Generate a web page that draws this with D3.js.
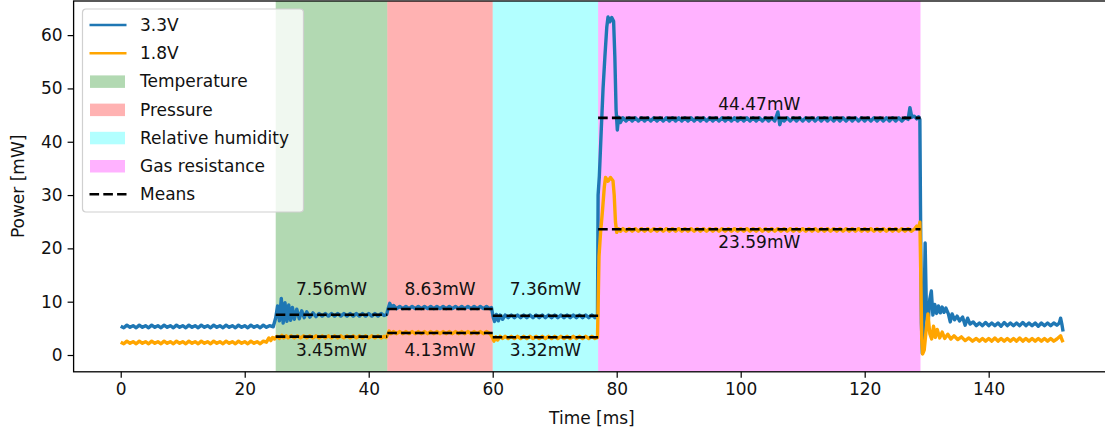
<!DOCTYPE html>
<html>
<head>
    <meta charset="utf-8">
    <title>Power</title>
    <script src="https://d3js.org/d3.v7.min.js"></script>
    <style>
        body { margin: 0; background: #fff; }
        svg { font-family: "DejaVu Sans", sans-serif; }
    </style>
</head>
<body>
<svg id="chart"></svg>
<script>
// measured phases [start, end] in ms
var phaseNames = ["Temperature", "Pressure", "Relative humidity", "Gas resistance"];
var phaseStart = [25, 43, 60, 77];
var phaseEnd = [43, 60, 77, 129];
var phaseColors = ["green", "red", "cyan", "magenta"];
var mean33 = [7.56, 8.63, 7.36, 44.47];
var mean18 = [3.45, 4.13, 3.32, 23.59];
var label33Y = [12.4, 12.4, 12.4, 47.1];
var label18Y = [0.9, 0.9, 0.9, 21.2];

var xTicks = [0, 20, 40, 60, 80, 100, 120, 140];
var yTicks = [0, 10, 20, 30, 40, 50, 60];

// 3.3V rail [time ms, power mW]
var power33 = [
    [0,5.4],[0.5,5.1],[1,5.6],[1.5,5.2],[2,5.5],[2.5,5.1],[3,5.6],[3.5,5.2],[4,5.5],[4.5,5.1],
    [5,5.6],[5.5,5.2],[6,5.5],[6.5,5.1],[7,5.6],[7.5,5.2],[8,5.5],[8.5,5.1],[9,5.6],[9.5,5.2],
    [10,5.5],[10.5,5.1],[11,5.6],[11.5,5.2],[12,5.5],[12.5,5.1],[13,5.6],[13.5,5.2],[14,5.5],[14.5,5.1],
    [15,5.6],[15.5,5.2],[16,5.5],[16.5,5.1],[17,5.6],[17.5,5.2],[18,5.5],[18.5,5.1],[19,5.6],[19.5,5.2],
    [20,5.5],[20.5,5.1],[21,5.6],[21.5,5.2],[22,5.5],[22.5,5.1],[23,5.6],[23.5,5.2],[24,5.5],[24.6,5.3],
    [25.0,7.0],[25.3,9.2],[25.6,6.4],[25.9,10.6],[26.2,6.0],[26.5,9.8],[26.8,6.3],[27.1,9.4],[27.4,6.5],
    [27.7,8.9],[28.0,6.7],[28.4,8.6],[28.8,6.8],[29.2,8.3],[29.6,7.0],[30.0,8.1],[30.5,7.1],[31,7.9],
    [31.5,7.2],[32,7.8],[32.5,7.3],[33,7.8],[33.5,7.3],[34,7.8],[34.5,7.3],[35,7.8],[35.5,7.3],[36,7.8],
    [36.5,7.3],[37,7.8],[37.5,7.3],[38,7.8],[38.5,7.3],[39,7.8],[39.5,7.3],[40,7.8],[40.5,7.3],[41,7.8],
    [41.5,7.3],[42,7.8],[42.5,7.4],[42.9,7.6],
    [43.1,8.6],[43.4,9.7],[43.7,8.8],[44.0,9.3],[44.5,8.7],[45,9.1],[45.5,8.7],[46,9.1],[46.5,8.7],
    [47,9.1],[47.5,8.7],[48,9.1],[48.5,8.7],[49,9.1],[49.5,8.7],[50,9.1],[50.5,8.7],[51,9.1],[51.5,8.7],
    [52,9.1],[52.5,8.7],[53,9.1],[53.5,8.7],[54,9.1],[54.5,8.7],[55,9.1],[55.5,8.7],[56,9.1],[56.5,8.7],
    [57,9.1],[57.5,8.7],[58,9.1],[58.5,8.7],[59,9.1],[59.5,8.7],[59.8,8.9],
    [60.1,7.0],[60.3,6.3],[60.6,7.6],[60.9,6.4],[61.2,7.5],[61.6,6.7],[62,7.5],[62.5,7.0],[63,7.5],
    [63.5,7.0],[64,7.5],[64.5,7.0],[65,7.5],[65.5,7.0],[66,7.5],[66.5,7.0],[67,7.5],[67.5,7.0],[68,7.5],
    [68.5,7.0],[69,7.5],[69.5,7.0],[70,7.5],[70.5,7.0],[71,7.5],[71.5,7.0],[72,7.5],[72.5,7.0],[73,7.5],
    [73.5,7.0],[74,7.5],[74.5,7.0],[75,7.5],[75.5,7.0],[76,7.5],[76.5,7.0],[76.9,7.2],
    [77.0,30.0],[77.2,33.5],[77.5,42],[77.8,50],[78.1,56],[78.4,61.5],[78.6,63.4],[78.9,62.5],[79.2,63.3],
    [79.5,62.6],[79.7,56],[79.9,46],[80.1,42.2],[80.3,44.6],[80.6,43.6],[81,44.5],[81.5,43.9],[82,44.5],
    [82.5,43.9],[83,44.5],[83.5,43.9],[84,44.5],[84.5,43.9],[85,44.5],[85.5,43.9],[86,44.5],[86.5,43.9],
    [87,44.5],[87.5,43.9],[88,44.5],[88.5,43.9],[89,44.5],[89.5,43.9],[90,44.5],[90.5,43.9],[91,44.5],
    [91.5,43.9],[92,44.5],[92.5,43.9],[93,44.5],[93.5,43.9],[94,44.5],[94.5,43.9],[95,44.5],[95.5,43.9],
    [96,44.5],[96.5,43.9],[97,44.5],[97.5,43.9],[98,44.5],[98.5,43.9],[99,44.5],[99.5,43.9],[100,44.5],
    [100.5,43.9],[101,44.5],[101.5,43.9],[102,44.5],[102.5,43.9],[103,44.5],[103.5,43.9],[104,44.5],
    [104.5,43.9],[105,44.5],[105.5,43.9],[106,45.6],[106.3,43.2],[106.6,44.3],[107,43.9],[107.5,44.5],
    [108,43.9],[108.5,44.5],[109,43.9],[109.5,44.5],[110,43.9],[110.5,44.5],[111,43.9],[111.5,44.5],
    [112,43.9],[112.5,44.5],[113,43.9],[113.5,44.5],[114,43.9],[114.5,44.5],[115,43.9],[115.5,44.5],
    [116,43.9],[116.5,44.5],[117,43.9],[117.5,44.5],[118,43.9],[118.5,44.5],[119,43.9],[119.5,44.5],
    [120,43.9],[120.5,44.5],[121,43.9],[121.5,44.5],[122,43.9],[122.5,44.5],[123,43.9],[123.5,44.5],
    [124,43.9],[124.5,44.5],[125,43.9],[125.5,44.5],[126,43.9],[126.5,44.5],[127,44.2],[127.3,46.4],
    [127.6,44.6],[128,44.8],[128.4,44.3],[128.7,44.7],[128.9,44.2],
    [129.0,28],[129.15,6],[129.3,0.3],[129.5,3],[129.75,21],[129.95,8.5],[130.2,5.5],[130.5,10.5],
    [130.75,12],[131.0,7.5],[131.3,9.5],[131.6,7.8],[131.9,9.2],[132.2,7.9],[132.5,9.0],[132.8,8.0],
    [133.1,8.8],[133.5,7.7],[133.8,6.2],[134.1,7.7],[134.5,6.6],[134.9,7.3],[135.3,6.4],[135.8,7.1],
    [136.2,5.6],[136.6,6.9],[137,5.8],[137.5,6.2],[138,5.5],[138.5,6.0],[139,5.5],[139.5,6.1],[140,5.5],
    [140.5,6.0],[141,5.5],[141.5,6.0],[142,5.4],[142.5,6.1],[143,5.5],[143.5,6.0],[144,5.5],[144.5,6.0],
    [145,5.5],[145.5,6.1],[146,5.5],[146.5,6.0],[147,5.5],[147.5,6.0],[148,5.4],[148.5,6.0],[149,5.5],
    [149.5,6.0],[150,5.5],[150.5,6.0],[151,5.6],[151.4,6.0],[151.6,6.9],[151.8,5.8],[152,4.4]
];

// 1.8V rail [time ms, power mW]
var power18 = [
    [0,2.4],[0.5,2.1],[1,2.6],[1.5,2.2],[2,2.5],[2.5,2.1],[3,2.6],[3.5,2.2],[4,2.5],[4.5,2.1],
    [5,2.6],[5.5,2.2],[6,2.5],[6.5,2.1],[7,2.6],[7.5,2.2],[8,2.5],[8.5,2.1],[9,2.6],[9.5,2.2],
    [10,2.5],[10.5,2.1],[11,2.6],[11.5,2.2],[12,2.5],[12.5,2.1],[13,2.6],[13.5,2.2],[14,2.5],[14.5,2.1],
    [15,2.6],[15.5,2.2],[16,2.5],[16.5,2.1],[17,2.6],[17.5,2.2],[18,2.5],[18.5,2.1],[19,2.6],[19.5,2.2],
    [20,2.5],[20.5,2.1],[21,2.6],[21.5,2.2],[22,2.5],[22.5,2.1],[23,2.6],[23.5,2.4],[23.9,3.2],[24.2,2.7],
    [24.5,3.3],[24.8,3.0],[25.2,3.5],[25.6,3.1],[26,3.7],[26.3,3.2],[26.7,3.6],[27,3.2],[27.5,3.6],[28,3.2],
    [28.5,3.6],[29,3.2],[29.5,3.6],[30,3.2],[30.5,3.6],[31,3.2],[31.5,3.6],[32,3.2],[32.5,3.6],[33,3.2],
    [33.5,3.6],[34,3.2],[34.5,3.6],[35,3.2],[35.5,3.6],[36,3.2],[36.5,3.6],[37,3.2],[37.5,3.6],[38,3.2],
    [38.5,3.6],[39,3.2],[39.5,3.6],[40,3.2],[40.5,3.6],[41,3.2],[41.5,3.6],[42,3.2],[42.5,3.5],[42.8,3.3],
    [43.1,3.9],[43.3,4.5],[43.6,4.0],[44,4.4],[44.5,4.0],[45,4.4],[45.5,4.0],[46,4.4],[46.5,4.0],[47,4.4],
    [47.5,4.0],[48,4.4],[48.5,4.0],[49,4.4],[49.5,4.0],[50,4.4],[50.5,4.0],[51,4.4],[51.5,4.0],[52,4.4],
    [52.5,4.0],[53,4.4],[53.5,4.0],[54,4.4],[54.5,4.0],[55,4.4],[55.5,4.0],[56,4.4],[56.5,4.0],[57,4.4],
    [57.5,4.0],[58,4.4],[58.5,4.0],[59,4.4],[59.6,4.0],[59.9,3.4],
    [60.2,2.6],[60.5,3.4],[60.8,2.8],[61.2,3.5],[61.6,3.1],[62,3.5],[62.5,3.1],[63,3.5],[63.5,3.1],[64,3.5],
    [64.5,3.1],[65,3.5],[65.5,3.1],[66,3.5],[66.5,3.1],[67,3.5],[67.5,3.1],[68,3.5],[68.5,3.1],[69,3.5],
    [69.5,3.1],[70,3.5],[70.5,3.1],[71,3.5],[71.5,3.1],[72,3.5],[72.5,3.1],[73,3.5],[73.5,3.1],[74,3.5],
    [74.5,3.1],[75,3.5],[75.5,3.1],[76,3.5],[76.5,3.1],[76.9,3.3],
    [77.05,12],[77.15,18.5],[77.4,23],[77.7,27],[78.0,31.5],[78.2,33.3],[78.6,32.6],[79.0,33.3],[79.4,32.7],
    [79.6,30],[79.8,25],[80.0,23.0],[80.3,23.7],[80.6,23.2],[81,23.7],[81.5,23.2],[82,23.7],[82.5,23.2],
    [83,23.7],[83.5,23.2],[84,23.7],[84.5,23.2],[85,23.7],[85.5,23.2],[86,23.7],[86.5,23.2],[87,23.7],
    [87.5,23.2],[88,23.7],[88.5,23.2],[89,23.7],[89.5,23.2],[90,23.7],[90.5,23.2],[91,23.7],[91.5,23.2],
    [92,23.7],[92.5,23.2],[93,23.7],[93.5,23.2],[94,23.7],[94.5,23.2],[95,23.7],[95.5,23.2],[96,23.7],
    [96.5,23.2],[97,23.7],[97.5,23.2],[98,23.7],[98.5,23.2],[99,23.7],[99.5,23.2],[100,23.7],[100.5,23.2],
    [101,23.7],[101.5,23.2],[102,23.7],[102.5,23.2],[103,23.7],[103.5,23.2],[104,23.7],[104.5,23.2],
    [105,23.7],[105.5,23.2],[106,23.7],[106.5,23.2],[107,23.7],[107.5,23.2],[108,23.7],[108.5,23.2],
    [109,23.7],[109.5,23.2],[110,23.7],[110.5,23.2],[111,23.7],[111.5,23.2],[112,23.7],[112.5,23.2],
    [113,23.7],[113.5,23.2],[114,23.7],[114.5,23.2],[115,23.7],[115.5,23.2],[116,23.7],[116.5,23.2],
    [117,23.7],[117.5,23.2],[118,23.7],[118.5,23.2],[119,23.7],[119.5,23.2],[120,23.7],[120.5,23.2],
    [121,23.7],[121.5,23.2],[122,23.7],[122.5,23.2],[123,23.7],[123.5,23.2],[124,23.7],[124.5,23.2],
    [125,23.7],[125.5,23.2],[126,23.7],[126.5,23.2],[127,23.7],[127.5,23.2],[128,23.6],[128.4,24.2],
    [128.7,23.8],[128.9,24.9],
    [129.05,15],[129.2,3],[129.35,0.2],[129.6,0.9],[129.9,4.5],[130.2,7.7],[130.5,4.0],[130.8,3.0],
    [131.1,5.4],[131.4,3.3],[131.7,4.8],[132.1,3.2],[132.5,4.3],[132.9,3.1],[133.4,3.9],[133.9,3.0],
    [134.4,3.6],[135,2.9],[135.6,3.4],[136.2,2.7],[136.8,3.2],[137.4,2.6],[138,3.1],[138.5,2.6],[139,3.1],
    [139.5,2.6],[140,3.1],[140.5,2.6],[141,3.2],[141.5,2.6],[142,3.1],[142.5,2.6],[143,3.1],[143.5,2.6],
    [144,3.1],[144.5,2.6],[145,3.2],[145.5,2.6],[146,3.1],[146.5,2.6],[147,3.1],[147.5,2.6],[148,3.1],
    [148.5,2.6],[149,3.1],[149.5,2.6],[150,3.1],[150.5,2.6],[151,3.0],[151.6,3.6],[151.8,2.9],[152,2.4]
];

var width = 1105;
var height = 434;
var plotLeft = 73.6, plotRight = 1110.2, plotTop = 1, plotBottom = 371.8;

var svg = d3.select("#chart")
    .attr("width", width)
    .attr("height", height);

var x = d3.scaleLinear().domain([-7.6, 159.6]).range([plotLeft, plotRight]);
var y = d3.scaleLinear().domain([-3.15, 66.4]).range([plotBottom, plotTop]);

svg.append("defs").append("clipPath").attr("id", "plot")
    .append("rect")
    .attr("x", plotLeft).attr("y", plotTop)
    .attr("width", plotRight - plotLeft).attr("height", plotBottom - plotTop);

var plot = svg.append("g").attr("clip-path", "url(#plot)");

// shaded phases
plot.selectAll("rect.phase")
    .data(phaseNames)
    .enter()
    .append("rect")
    .attr("class", "phase")
    .attr("x", function(d, i) { return x(phaseStart[i]); })
    .attr("width", function(d, i) { return x(phaseEnd[i]) - x(phaseStart[i]); })
    .attr("y", plotTop)
    .attr("height", plotBottom - plotTop)
    .attr("fill", function(d, i) { return phaseColors[i]; })
    .attr("fill-opacity", 0.3);

var line = d3.line()
    .x(function(d) { return x(d[0]); })
    .y(function(d) { return y(d[1]); });

plot.append("path")
    .datum(power33)
    .attr("d", line)
    .attr("fill", "none")
    .attr("stroke", "#1f77b4")
    .attr("stroke-width", 3.4)
    .attr("stroke-linejoin", "round");

plot.append("path")
    .datum(power18)
    .attr("d", line)
    .attr("fill", "none")
    .attr("stroke", "orange")
    .attr("stroke-width", 3.4)
    .attr("stroke-linejoin", "round");

// means
var means = [];
phaseNames.forEach(function(n, i) {
    means.push({ i: i, v: mean33[i], ly: label33Y[i] });
    means.push({ i: i, v: mean18[i], ly: label18Y[i] });
});

plot.selectAll("line.mean")
    .data(means)
    .enter()
    .append("line")
    .attr("x1", function(d) { return x(phaseStart[d.i]); })
    .attr("x2", function(d) { return x(phaseEnd[d.i]); })
    .attr("y1", function(d) { return y(d.v); })
    .attr("y2", function(d) { return y(d.v); })
    .attr("stroke", "black")
    .attr("stroke-width", 2.6)
    .attr("stroke-dasharray", "9.6,4.2");

plot.selectAll("text.mean")
    .data(means)
    .enter()
    .append("text")
    .attr("x", function(d) { return x((phaseStart[d.i] + phaseEnd[d.i]) / 2); })
    .attr("y", function(d) { return y(d.ly); })
    .attr("text-anchor", "middle")
    .attr("dominant-baseline", "central")
    .attr("font-size", 17)
    .attr("fill", "#111")
    .text(function(d) { return d.v.toFixed(2) + "mW"; });

// axes
var xAxis = svg.append("g")
    .attr("transform", "translate(0," + plotBottom + ")")
    .call(d3.axisBottom(x).tickValues(xTicks).tickSize(6).tickPadding(5).tickFormat(d3.format("d")));
var yAxis = svg.append("g")
    .attr("transform", "translate(" + plotLeft + ",0)")
    .call(d3.axisLeft(y).tickValues(yTicks).tickSize(6).tickPadding(5).tickFormat(d3.format("d")));

[xAxis, yAxis].forEach(function(a) {
    a.select(".domain").remove();
    a.selectAll(".tick line").attr("stroke", "black").attr("stroke-width", 1.2);
    a.selectAll(".tick text").attr("font-size", 17).attr("fill", "#111")
        .attr("font-family", "DejaVu Sans");
});

svg.append("rect")
    .attr("x", plotLeft).attr("y", plotTop)
    .attr("width", plotRight - plotLeft).attr("height", plotBottom - plotTop)
    .attr("fill", "none")
    .attr("stroke", "black")
    .attr("stroke-width", 1.3);

svg.append("text")
    .attr("x", (plotLeft + plotRight) / 2)
    .attr("y", 424)
    .attr("text-anchor", "middle")
    .attr("font-size", 17)
    .attr("fill", "#111")
    .text("Time [ms]");

svg.append("text")
    .attr("transform", "translate(24," + ((plotTop + plotBottom) / 2) + ") rotate(-90)")
    .attr("text-anchor", "middle")
    .attr("font-size", 17)
    .attr("fill", "#111")
    .text("Power [mW]");

// legend
var legendItems = [
    { name: "3.3V", kind: "line", color: "#1f77b4" },
    { name: "1.8V", kind: "line", color: "orange" }
];
phaseNames.forEach(function(n, i) {
    legendItems.push({ name: n, kind: "patch", color: phaseColors[i] });
});
legendItems.push({ name: "Means", kind: "dash", color: "black" });

var legend = svg.append("g").attr("transform", "translate(82.5,9)");
legend.append("rect")
    .attr("width", 221)
    .attr("height", 203)
    .attr("rx", 3.5)
    .attr("fill", "white")
    .attr("fill-opacity", 0.8)
    .attr("stroke", "#d0d0d0")
    .attr("stroke-width", 1.2);

var rows = legend.selectAll("g.row")
    .data(legendItems)
    .enter()
    .append("g")
    .attr("transform", function(d, i) { return "translate(0," + (16 + i * 28.2) + ")"; });

rows.filter(function(d) { return d.kind !== "patch"; })
    .append("line")
    .attr("x1", 7).attr("x2", 44)
    .attr("stroke", function(d) { return d.color; })
    .attr("stroke-width", 2.6)
    .attr("stroke-dasharray", function(d) { return d.kind === "dash" ? "9.6,4.2" : null; });

rows.filter(function(d) { return d.kind === "patch"; })
    .append("rect")
    .attr("x", 7.5).attr("y", -6)
    .attr("width", 35).attr("height", 12.5)
    .attr("fill", function(d) { return d.color; })
    .attr("fill-opacity", 0.3);

rows.append("text")
    .attr("x", 57.5)
    .attr("dominant-baseline", "central")
    .attr("font-size", 17)
    .attr("fill", "#111")
    .text(function(d) { return d.name; });
</script>
</body>
</html>
